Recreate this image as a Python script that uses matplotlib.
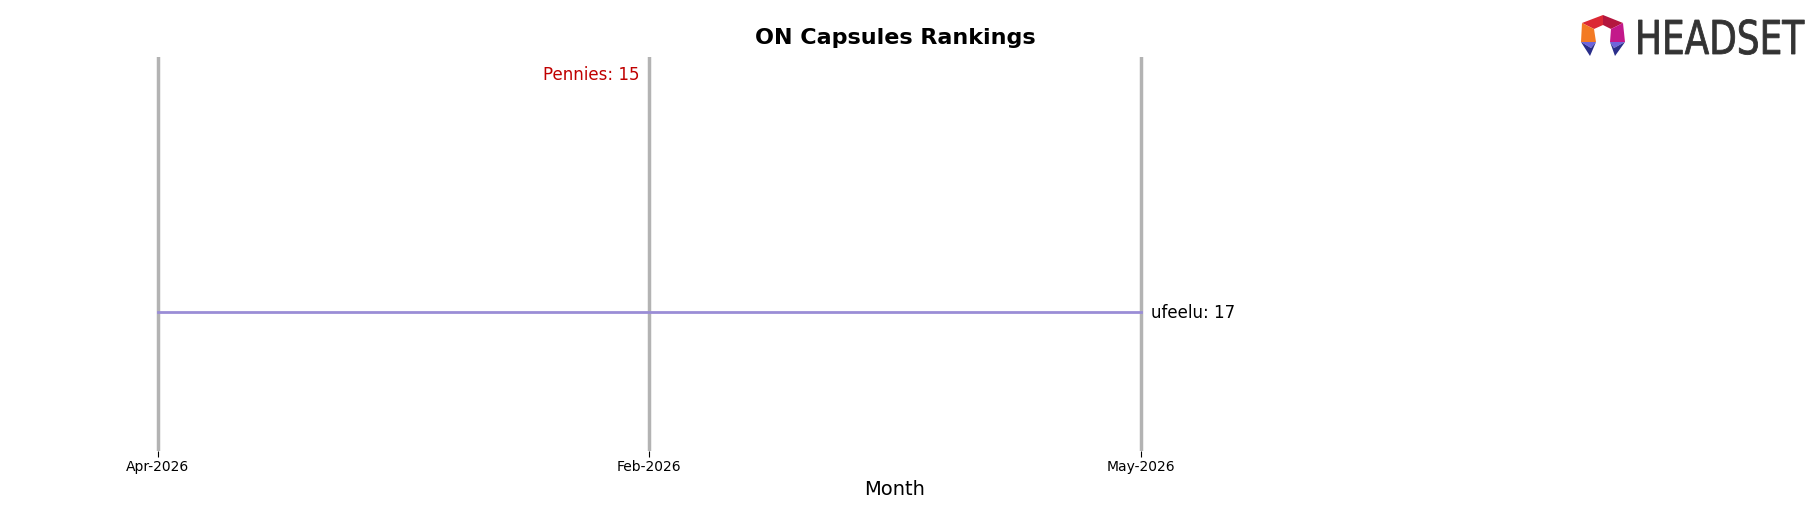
import numpy as np
import matplotlib
matplotlib.use('Agg')
import matplotlib.pyplot as plt
from matplotlib.patches import Polygon, PathPatch
from matplotlib.textpath import TextPath
from matplotlib.font_manager import FontProperties
from matplotlib.transforms import Affine2D

# Chart data
months = ['Apr-2026', 'Feb-2026', 'May-2026']
ufeelu_rank = [17, 17, 17]
pennies_rank = [np.nan, 15, np.nan]

W, H = 1818, 507
fig = plt.figure(figsize=(W / 100, H / 100), dpi=100)
ax = fig.add_axes([108.5 / W, 0.1105, 1573 / W, 0.7771])

x = np.arange(len(months))

# Vertical month guides
for xi in x:
    ax.axvline(xi, color='#b3b3b3', linewidth=2.5, zorder=1)

# Brand lines
ax.plot(x, ufeelu_rank, color='#9a8dd6', linewidth=2, zorder=2)
ax.plot(x, pennies_rank, color='#c00000', linewidth=2, zorder=2)

# End labels
last_u = max(i for i, v in enumerate(ufeelu_rank) if not np.isnan(v))
ax.text(x[last_u] + 0.02, ufeelu_rank[last_u] + 0.01, f'ufeelu: {ufeelu_rank[last_u]}',
        fontsize=12, color='black', ha='left', va='center')
last_p = max(i for i, v in enumerate(pennies_rank) if not np.isnan(v))
ax.text(x[last_p] - 0.02, pennies_rank[last_p] + 0.01, f'Pennies: {int(pennies_rank[last_p])}',
        fontsize=12, color='#c00000', ha='right', va='center')

ax.set_xlim(-0.1, 3.1)
ax.set_ylim(18.17, 14.86)
ax.set_xticks(x)
ax.set_xticklabels(months, fontsize=10)
ax.set_yticks([])
ax.tick_params(axis='x', length=4, pad=2.5)
for s in ax.spines.values():
    s.set_visible(False)
ax.set_xlabel('Month', fontsize=14, labelpad=4.5)

ax.set_title('ON Capsules Rankings', fontsize=16, fontweight='bold', pad=9)

# Headset logo, drawn in figure pixel coordinates
lax = fig.add_axes([0, 0, 1, 1], zorder=5)
lax.set_xlim(0, W)
lax.set_ylim(0, H)
lax.axis('off')

def P(px, py):
    return (px, H - py)

T, LT, RT = P(1603, 15), P(1582, 23), P(1623, 23)
LB, RB = P(1581, 42), P(1625, 42)
IT, IL, IR = P(1603, 25), P(1594, 29), P(1611, 29)
ILB, IRB = P(1596, 42), P(1610, 42)
LL, RL = P(1590, 56), P(1615, 56)
LM, RM = P(1591, 48), P(1614, 48)

pieces = [
    ([T, IT, IL, LT], '#dc2834'),
    ([T, RT, IR, IT], '#b4163e'),
    ([LT, IL, ILB, LB], '#f37a24'),
    ([RT, IR, IRB, RB], '#c3188a'),
    ([LB, ILB, LM], '#6e64dc'),
    ([LB, LM, ILB, LL], '#2a2e8a'),
    ([RB, IRB, RM], '#6e64dc'),
    ([RB, RM, IRB, RL], '#2a2e8a'),
]
for pts, col in pieces:
    lax.add_patch(Polygon(pts, closed=True, color=col, lw=0))

tp = TextPath((0, 0), 'HEADSET', size=46.6, prop=FontProperties(family='DejaVu Sans'))
tr = Affine2D().scale(0.77, 1).translate(1635, H - 54)
lax.add_patch(PathPatch(tr.transform_path(tp), color='#333333', lw=0.6))

fig.savefig('out.png', dpi=100)
